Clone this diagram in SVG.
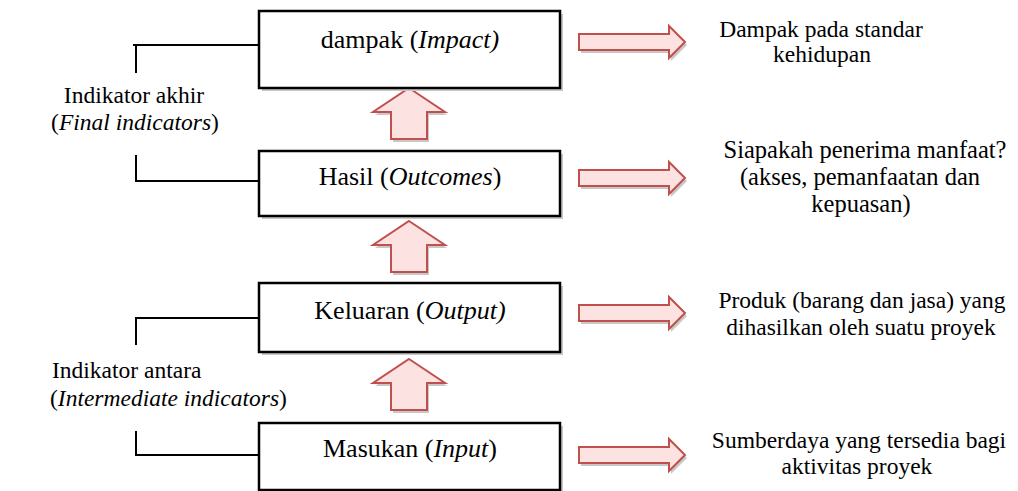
<svg xmlns="http://www.w3.org/2000/svg" width="1018" height="491" viewBox="0 0 1018 491" font-family="'Liberation Serif', 'Times New Roman', Tinos, 'DejaVu Serif', serif">
<defs>
<style>
.box{fill:#fff;stroke:#000;stroke-width:2.5}
.shadow{fill:#c8c8c8}
.arr{fill:#fde2e2;stroke:#c0504d;stroke-width:2;stroke-linejoin:miter}
.ashadow{fill:#c8c8c8}
.br{fill:none;stroke:#000;stroke-width:2}
.bt{font-size:26px;text-anchor:middle}
.st{font-size:23.5px}
.st2{font-size:24.5px}
.mid{text-anchor:middle}
</style>
<path id="up" d="M0,0 L36,24 L18,24 L18,51 L-18,51 L-18,24 L-36,24 Z"/>
<path id="rt" d="M0,-8 L90,-8 L90,-16 L106,0 L90,16 L90,8 L0,8 Z"/>
</defs>
<rect width="1018" height="491" fill="#fff"/>
<g id="connectors">
<path class="br" d="M133,45 H259 M136,45 V73 M136,155 V181 H259"/>
<path class="br" d="M136,345 V318 H259 M136,431 V455 H259"/>
<use href="#up" x="411" y="91" class="ashadow"/>
<use href="#up" x="409" y="88" class="arr"/>
<use href="#up" x="411" y="224" class="ashadow"/>
<use href="#up" x="409" y="221" class="arr"/>
<use href="#up" x="411" y="362" class="ashadow"/>
<use href="#up" x="409" y="359" class="arr"/>
<use href="#rt" x="581" y="45" class="ashadow"/>
<use href="#rt" x="579" y="42" class="arr"/>
<use href="#rt" x="581" y="181" class="ashadow"/>
<use href="#rt" x="579" y="178" class="arr"/>
<use href="#rt" x="581" y="316" class="ashadow"/>
<use href="#rt" x="579" y="313" class="arr"/>
<use href="#rt" x="581" y="458" class="ashadow"/>
<use href="#rt" x="579" y="455" class="arr"/>
</g>
<g id="node-dampak">
<rect class="shadow" x="262" y="14" width="301" height="77"/>
<rect class="box" x="259" y="11" width="301" height="77"/>
<text class="bt" x="410" y="48">dampak (<tspan font-style="italic">Impact)</tspan></text>
</g>
<g id="node-hasil">
<rect class="shadow" x="262" y="154" width="301" height="65"/>
<rect class="box" x="259" y="151" width="301" height="65"/>
<text class="bt" x="410" y="185">Hasil (<tspan font-style="italic">Outcomes</tspan>)</text>
</g>
<g id="node-keluaran">
<rect class="shadow" x="262" y="286" width="301" height="69"/>
<rect class="box" x="259" y="283" width="301" height="69"/>
<text class="bt" x="410" y="319">Keluaran (<tspan font-style="italic">Output)</tspan></text>
</g>
<g id="node-masukan">
<rect class="shadow" x="262" y="426" width="301" height="67"/>
<rect class="box" x="259" y="423" width="301" height="67"/>
<text class="bt" x="410" y="457">Masukan (<tspan font-style="italic">Input</tspan>)</text>
</g>
<g id="label-final">
<text class="st mid" x="134" y="103">Indikator akhir</text>
<text class="st mid" x="135" y="130">(<tspan font-style="italic">Final indicators</tspan>)</text>
</g>
<g id="label-intermediate">
<text class="st" x="52" y="378">Indikator antara</text>
<text class="st" x="50" y="406">(<tspan font-style="italic">Intermediate indicators</tspan>)</text>
</g>
<g id="desc-impact">
<text class="st mid" x="821" y="37">Dampak pada standar</text>
<text class="st mid" x="822" y="62">kehidupan</text>
</g>
<g id="desc-outcomes">
<text class="st2 mid" x="865" y="158">Siapakah penerima manfaat?</text>
<text class="st2 mid" x="860" y="185">(akses, pemanfaatan dan</text>
<text class="st2 mid" x="861" y="212">kepuasan)</text>
</g>
<g id="desc-output">
<text class="st mid" x="862" y="308">Produk (barang dan jasa) yang</text>
<text class="st mid" x="861" y="335">dihasilkan oleh suatu proyek</text>
</g>
<g id="desc-input">
<text class="st mid" x="859" y="448">Sumberdaya yang tersedia bagi</text>
<text class="st mid" x="857" y="474">aktivitas proyek</text>
</g>
</svg>
